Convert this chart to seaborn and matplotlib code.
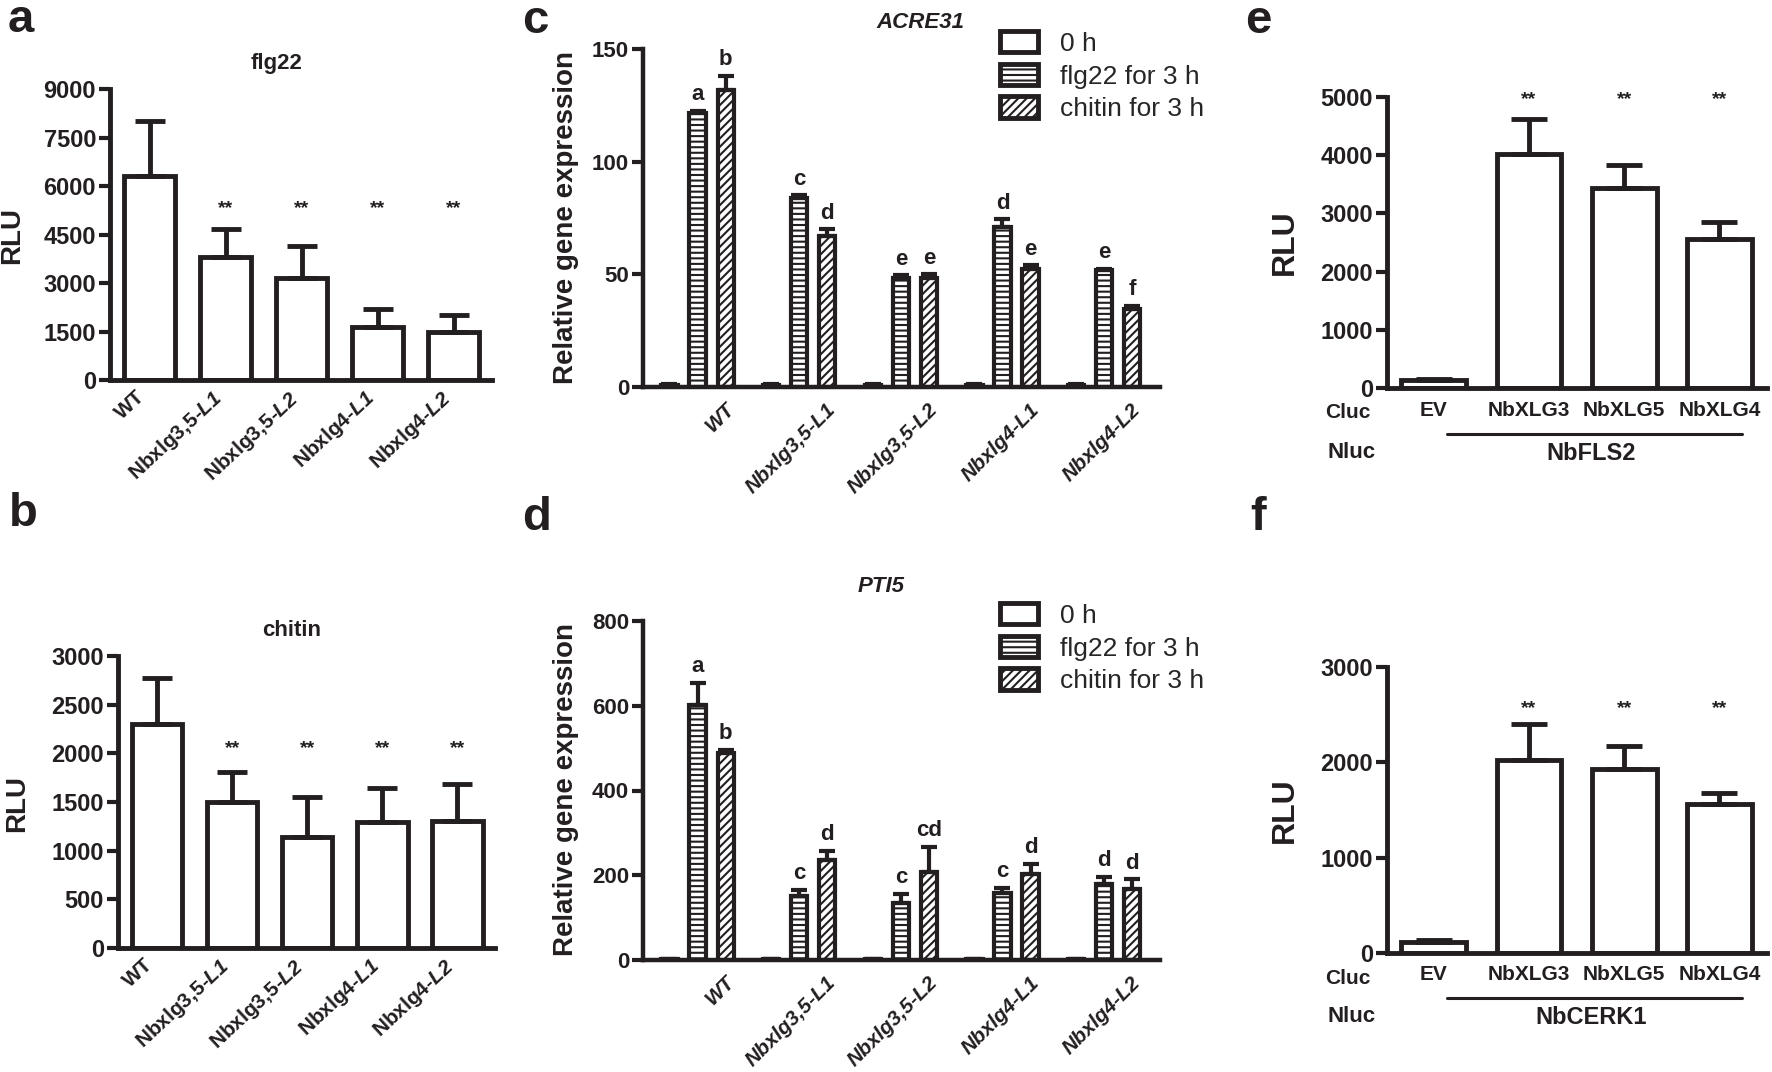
import matplotlib
matplotlib.use("Agg")
import numpy as np
import pandas as pd
import matplotlib.pyplot as plt
import matplotlib.transforms as mtransforms
from matplotlib.patches import Patch
from matplotlib.lines import Line2D
import seaborn as sns

# ── Data ─────────────────────────────────────────────────────────────────────

LINES = ["WT", "Nbxlg3,5-L1", "Nbxlg3,5-L2", "Nbxlg4-L1", "Nbxlg4-L2"]
# panels a/b print the line suffix in italics
LINE_LABELS_AB = ["WT", r"Nbxlg3,5-$\mathbfit{L1}$", r"Nbxlg3,5-$\mathbfit{L2}$",
                  r"Nbxlg4-$\mathbfit{L1}$", r"Nbxlg4-$\mathbfit{L2}$"]

# a / b: ROS burst (RLU)
flg22_rlu = [6300, 3800, 3150, 1650, 1500]
flg22_sd = [1700, 880, 1000, 550, 500]
chitin_rlu = [2300, 1500, 1140, 1290, 1305]
chitin_sd = [470, 310, 410, 350, 375]

TREATS = ["0 h", "flg22 for 3 h", "chitin for 3 h"]

# c: ACRE31 relative expression
acre31_0h = [1.0, 1.0, 1.0, 1.0, 1.0]
acre31_flg22 = [121.5, 84.0, 48.5, 71.0, 52.0]
acre31_chitin = [132.0, 67.0, 48.5, 52.5, 34.5]
acre31_0h_err = [0.2, 0.2, 0.2, 0.2, 0.2]
acre31_flg22_err = [1.0, 1.0, 1.0, 3.5, 0.5]
acre31_chitin_err = [6.0, 3.0, 1.5, 1.5, 1.5]
acre31_flg22_sig = ["a", "c", "e", "d", "e"]
acre31_chitin_sig = ["b", "d", "e", "e", "f"]

# d: PTI5 relative expression
pti5_0h = [1.5, 1.5, 1.5, 1.5, 1.5]
pti5_flg22 = [601, 151, 135, 158, 179]
pti5_chitin = [489, 237, 208, 203, 167]
pti5_0h_err = [0.3, 0.3, 0.3, 0.3, 0.3]
pti5_flg22_err = [53, 15, 21, 12, 18]
pti5_chitin_err = [7, 21, 59, 24, 24]
pti5_flg22_sig = ["a", "c", "c", "c", "d"]
pti5_chitin_sig = ["b", "d", "cd", "d", "d"]

# e / f: split-luciferase (RLU)
CLUC = ["EV", "NbXLG3", "NbXLG5", "NbXLG4"]
fls2_rlu = [130, 4015, 3440, 2555]
fls2_sd = [30, 610, 400, 300]
cerk1_rlu = [115, 2020, 1935, 1565]
cerk1_sd = [25, 380, 235, 112]

# ── Style ────────────────────────────────────────────────────────────────────

sns.set_style("ticks")
plt.rcParams["font.family"] = ["Liberation Sans", "DejaVu Sans"]
plt.rcParams["font.weight"] = "bold"
plt.rcParams["axes.labelweight"] = "bold"
plt.rcParams["mathtext.fontset"] = "custom"
plt.rcParams["mathtext.bfit"] = "Liberation Sans:italic:bold"
plt.rcParams["mathtext.bf"] = "Liberation Sans:bold"
plt.rcParams["mathtext.rm"] = "Liberation Sans"
plt.rcParams["mathtext.it"] = "Liberation Sans:italic"
plt.rcParams["hatch.linewidth"] = 1.5
plt.rcParams["hatch.color"] = "black"

W, H = 1772, 1072
INK = "#231f20"


def fx(x):
    return x / W


def fy(y):
    return 1 - y / H


def px_axes(fig, left, top, right, bottom):
    return fig.add_axes([left / W, 1 - bottom / H, (right - left) / W, (bottom - top) / H])


def style_axes(ax, lw=3.5, ysize=17):
    for s in ["top", "right"]:
        ax.spines[s].set_visible(False)
    for s in ["left", "bottom"]:
        ax.spines[s].set_linewidth(lw)
        ax.spines[s].set_color(INK)
    ax.tick_params(axis="y", length=8, width=3, color=INK, labelcolor=INK, pad=2,
                   labelsize=ysize)
    ax.tick_params(axis="x", length=0, labelcolor=INK)
    for lbl in ax.get_yticklabels() + ax.get_xticklabels():
        lbl.set_fontweight("bold")
    ax.set_xlabel("")


def up_errorbars(ax, patches, errs, lw, cap):
    for p, e in zip(patches, errs):
        x = p.get_x() + p.get_width() / 2
        ax.errorbar(x, p.get_height(), yerr=[[0], [e]], fmt="none", ecolor=INK,
                    elinewidth=lw, capsize=cap, capthick=lw)


def rotate_labels(ax, fig, angle, dx, dy, size, style="normal"):
    off = mtransforms.ScaledTranslation(dx / 100, dy / 100, fig.dpi_scale_trans)
    for lbl in ax.get_xticklabels():
        lbl.set_rotation(angle)
        lbl.set_ha("right")
        lbl.set_va("top")
        lbl.set_rotation_mode("anchor")
        lbl.set_fontsize(size)
        lbl.set_style(style)
        lbl.set_fontweight("bold")
        lbl.set_transform(lbl.get_transform() + off)


# ── Panels a / b ──────────────────────────────────────────────────────────────

def ros_panel(fig, box, vals, errs, ymax, step, star_y, title, title_xy, ylab_xy):
    ax = px_axes(fig, *box)
    df = pd.DataFrame({"line": LINES, "rlu": vals})
    sns.barplot(data=df, x="line", y="rlu", color="white", edgecolor=INK,
                linewidth=3.5, width=0.67, errorbar=None, ax=ax)
    up_errorbars(ax, ax.patches, errs, 3.5, 11)
    for i in range(1, len(LINES)):
        ax.text(i, star_y, "**", ha="center", va="center", fontsize=14, color=INK)
    ax.set_ylim(0, ymax)
    ax.set_yticks(np.arange(0, ymax + 1, step))
    ax.set_xticks(range(len(LINES)), LINE_LABELS_AB)
    ax.set_xlim(-0.52, 4.5)
    style_axes(ax)
    rotate_labels(ax, fig, 43, -14, -2, 15)
    ax.set_ylabel("RLU", fontsize=20, color=INK)
    ax.yaxis.set_label_coords(fx(ylab_xy[0]), fy(ylab_xy[1]), transform=fig.transFigure)
    fig.text(fx(title_xy[0]), fy(title_xy[1]), title, ha="center", va="center",
             fontsize=16, color=INK)
    return ax


# ── Panels c / d ──────────────────────────────────────────────────────────────

def expr_panel(fig, box, means, errs, sigs, ymax, step, title, title_xy, ylab_xy, leg_xy):
    ax = px_axes(fig, *box)
    df = pd.DataFrame({
        "line": LINES * 3,
        "treat": np.repeat(TREATS, len(LINES)),
        "val": np.concatenate(means),
    })
    sns.barplot(data=df, x="line", y="val", hue="treat", hue_order=TREATS,
                palette=["white"] * 3, edgecolor=INK, linewidth=3, width=0.83, gap=0.42,
                errorbar=None, legend=False, ax=ax)
    hatches = ["", "---", "////"]
    for cont, h, e in zip(ax.containers, hatches, errs):
        for p in cont:
            p.set_hatch(h)
        up_errorbars(ax, cont, e, 3, 6)
    for cont, e, s in zip(ax.containers[1:], errs[1:], sigs):
        for p, ee, lab in zip(cont, e, s):
            ax.annotate(lab, (p.get_x() + p.get_width() / 2, p.get_height() + ee),
                        xytext=(0, 4), textcoords="offset points", ha="center",
                        va="bottom", fontsize=16, color=INK)
    ax.set_ylim(0, ymax)
    ax.set_yticks(np.arange(0, ymax + 1, step))
    ax.set_xlim(-0.537, 4.55)
    style_axes(ax, 3.2, 16)
    rotate_labels(ax, fig, 45, 27, -8, 15, "italic")
    ax.set_ylabel("Relative gene expression", fontsize=20, color=INK)
    ax.yaxis.set_label_coords(fx(ylab_xy[0]), fy(ylab_xy[1]), transform=fig.transFigure)
    fig.text(fx(title_xy[0]), fy(title_xy[1]), title, ha="center", va="center",
             fontsize=16, style="italic", color=INK)
    handles = [Patch(facecolor="white", edgecolor=INK, linewidth=3.5, hatch=h) for h in hatches]
    ax.legend(handles, TREATS, loc="upper left", bbox_to_anchor=(fx(leg_xy[0]), fy(leg_xy[1])),
              bbox_transform=fig.transFigure, frameon=False, borderpad=0, borderaxespad=0,
              handlelength=1.44, handleheight=0.87, handletextpad=0.83, labelspacing=0.3,
              prop={"size": 19, "weight": "normal"})
    return ax


# ── Panels e / f ──────────────────────────────────────────────────────────────

def luc_panel(fig, box, vals, errs, ymax, step, star_y, nluc, ylab_xy, rows_y):
    ax = px_axes(fig, *box)
    df = pd.DataFrame({"cluc": CLUC, "rlu": vals})
    sns.barplot(data=df, x="cluc", y="rlu", color="white", edgecolor=INK,
                linewidth=3.5, width=0.68, errorbar=None, ax=ax)
    up_errorbars(ax, ax.patches, errs, 3.5, 13)
    for i in range(1, len(CLUC)):
        ax.text(i, star_y, "**", ha="center", va="center", fontsize=14, color=INK)
    ax.set_ylim(0, ymax)
    ax.set_yticks(np.arange(0, ymax + 1, step))
    ax.set_xlim(-0.49, 3.5)
    style_axes(ax)
    ax.tick_params(axis="x", labelsize=15, pad=9)
    ax.set_ylabel("RLU", fontsize=23, color=INK)
    ax.yaxis.set_label_coords(fx(ylab_xy[0]), fy(ylab_xy[1]), transform=fig.transFigure)
    cl_y, line_y, nl_y = rows_y
    fig.text(fx(1348), fy(cl_y), "Cluc", ha="center", va="center", fontsize=15, color=INK)
    fig.text(fx(1352), fy(nl_y), "Nluc", ha="center", va="center", fontsize=16, color=INK)
    trans = mtransforms.blended_transform_factory(ax.transData, fig.transFigure)
    ax.add_line(Line2D([0.14, 3.24], [fy(line_y)] * 2, transform=trans, color=INK,
                       linewidth=2.2, clip_on=False))
    ax.text(1.65, fy(nl_y), nluc, transform=trans, ha="center", va="center",
            fontsize=17, color=INK)
    return ax


fig = plt.figure(figsize=(W / 100, H / 100), dpi=100)

ros_panel(fig, (110, 89, 492, 380), flg22_rlu, flg22_sd, 9000, 1500, 5315,
          "flg22", (277, 63), (25, 235))
ros_panel(fig, (118, 656, 495, 948), chitin_rlu, chitin_sd, 3000, 500, 2044,
          "chitin", (292, 630), (30, 803))

expr_panel(fig, (643, 49, 1160, 387),
           [acre31_0h, acre31_flg22, acre31_chitin],
           [acre31_0h_err, acre31_flg22_err, acre31_chitin_err],
           [acre31_flg22_sig, acre31_chitin_sig], 150, 50,
           "ACRE31", (920, 22), (579, 217), (1000, 31))
expr_panel(fig, (643, 621, 1160, 960),
           [pti5_0h, pti5_flg22, pti5_chitin],
           [pti5_0h_err, pti5_flg22_err, pti5_chitin_err],
           [pti5_flg22_sig, pti5_chitin_sig], 800, 200,
           "PTI5", (881, 587), (579, 790), (1000, 603))

luc_panel(fig, (1387, 97, 1767, 388), fls2_rlu, fls2_sd, 5000, 1000, 4954,
          "NbFLS2", (1300, 242), (413, 434, 453))
luc_panel(fig, (1387, 667, 1767, 953), cerk1_rlu, cerk1_sd, 3000, 1000, 2563,
          "NbCERK1", (1300, 810), (978, 998, 1017))

# panel letters (left edge, baseline)
for letter, (x, y) in {"a": (8, 32), "b": (9, 526), "c": (522, 33), "d": (522, 530),
                       "e": (1245, 33), "f": (1250, 530)}.items():
    fig.text(fx(x), fy(y), letter, ha="left", va="baseline", fontsize=34, color=INK)

fig.savefig("out.png", dpi=100)
